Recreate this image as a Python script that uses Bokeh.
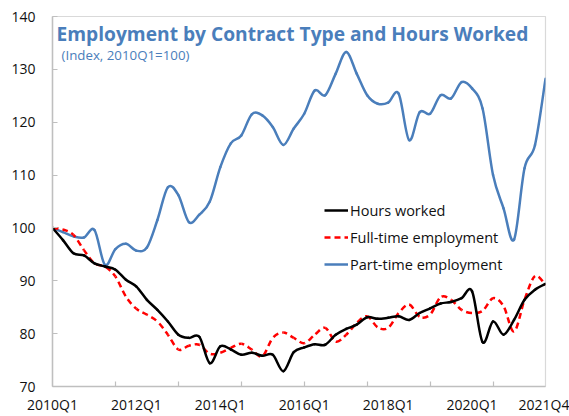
import numpy as np
from bokeh.plotting import figure
from bokeh.models import (Range1d, FixedTicker, Label, Legend, LegendItem,
                          ColumnDataSource, CustomJSTickFormatter)
from bokeh.embed import file_html
from bokeh.resources import INLINE

# ---------------- data ----------------
quarters = [f"{y}Q{q}" for y in range(2010, 2022) for q in range(1, 5)]
tick_labels = ["2010Q1", "2012Q1", "2014Q1", "2016Q1", "2018Q1", "2020Q1", "2021Q4"]
y_ticks = [70, 80, 90, 100, 110, 120, 130, 140]

hours = [100, 97.7, 95.2, 94.8, 93.3, 92.7, 92.1, 90.2, 88.9, 86.4, 84.5, 82.3,
         79.8, 79.2, 79.4, 74.4, 77.6, 77.0, 76.0, 76.4, 75.8, 76.0, 72.9, 76.5,
         77.4, 78.0, 77.9, 79.8, 80.9, 81.7, 83.1, 82.8, 83.0, 83.3, 82.6, 83.9,
         84.8, 85.7, 86.0, 86.7, 88.0, 78.4, 82.3, 79.8, 82.6, 86.4, 88.3, 89.4]
full_time = [100, 99.7, 98.7, 95.8, 93.3, 92.7, 90.8, 87.0, 84.7, 83.6, 82.3, 79.8,
             77.0, 77.7, 77.9, 76.2, 76.4, 77.3, 78.1, 77.0, 75.7, 79.2, 80.2, 79.2,
             78.2, 79.8, 81.1, 78.5, 79.8, 82.0, 83.3, 81.2, 81.1, 83.9, 85.5, 83.2,
             83.6, 86.9, 86.4, 84.5, 83.9, 84.3, 86.7, 85.2, 80.4, 86.4, 90.9, 89.2]
part_time = [100, 99.2, 98.4, 98.2, 99.6, 93.0, 96.0, 97.0, 95.7, 96.3, 101.5, 107.7,
             106.2, 101.1, 102.5, 105.0, 111.5, 116.0, 117.5, 121.5, 121.3, 119.1, 115.7, 118.8,
             121.6, 126.0, 125.1, 129.2, 133.3, 129.2, 125.1, 123.5, 123.7, 125.4, 116.6, 121.9,
             121.6, 125.1, 124.5, 127.6, 126.4, 122.6, 110.0, 103.7, 97.8, 111.3, 115.7, 128.2]

# ---------------- layout ----------------
W, H = 569, 416
BL, BR, BT, BB = 52, 24, 16, 29
FW, FH = W - BL - BR, H - BT - BB
Y0, Y1 = 70, 140
N = len(quarters)

BLUE = "#4a7ebb"
RED = "#ff0000"
FONT = "Open Sans"

p = figure(width=W, height=H, output_backend="svg", toolbar_location=None,
           x_range=Range1d(0, N - 1), y_range=Range1d(Y0, Y1),
           min_border_left=BL, min_border_right=BR, min_border_top=BT,
           min_border_bottom=BB)
p.grid.visible = False
p.outline_line_color = "#d9d9d9"
p.outline_line_width = 1.2
p.background_fill_color = "white"
p.border_fill_color = "white"


def bezier_source(vals):
    x = np.arange(len(vals), dtype=float)
    y = np.asarray(vals, dtype=float)
    n = len(vals)
    sx, sy = FW / (n - 1), FH / (Y1 - Y0)
    d = dict(x0=[], y0=[], x1=[], y1=[], cx0=[], cy0=[], cx1=[], cy1=[], off=[])
    cum = 0.0
    for i in range(n - 1):
        a = max(i - 1, 0)
        b = min(i + 2, n - 1)
        c0x = x[i] + (x[i + 1] - x[a]) / 6
        c0y = y[i] + (y[i + 1] - y[a]) / 6
        c1x = x[i + 1] - (x[b] - x[i]) / 6
        c1y = y[i + 1] - (y[b] - y[i]) / 6
        d["x0"].append(x[i]); d["y0"].append(y[i])
        d["x1"].append(x[i + 1]); d["y1"].append(y[i + 1])
        d["cx0"].append(c0x); d["cy0"].append(c0y)
        d["cx1"].append(c1x); d["cy1"].append(c1y)
        d["off"].append(int(round(cum)) % 10)
        t = np.linspace(0, 1, 25)
        bx = ((1 - t) ** 3 * x[i] + 3 * (1 - t) ** 2 * t * c0x
              + 3 * (1 - t) * t ** 2 * c1x + t ** 3 * x[i + 1]) * sx
        by = ((1 - t) ** 3 * y[i] + 3 * (1 - t) ** 2 * t * c0y
              + 3 * (1 - t) * t ** 2 * c1y + t ** 3 * y[i + 1]) * sy
        cum += float(np.sum(np.hypot(np.diff(bx), np.diff(by))))
    return ColumnDataSource(d)


LW = 2.5
bz = dict(x0="x0", y0="y0", x1="x1", y1="y1", cx0="cx0", cy0="cy0", cx1="cx1", cy1="cy1")
p.bezier(source=bezier_source(part_time), line_color=BLUE, line_width=LW, line_cap="round", **bz)
p.bezier(source=bezier_source(full_time), line_color=RED, line_width=LW,
         line_dash="6 4", line_dash_offset="off", **bz)
p.bezier(source=bezier_source(hours), line_color="black", line_width=LW, line_cap="round", **bz)

# legend proxies (one NaN point each: nothing drawn in the plot, only the legend sample)
r_h = p.line(x=[np.nan], y=[np.nan], line_color="black", line_width=LW)
r_f = p.line(x=[np.nan], y=[np.nan], line_color=RED, line_width=LW, line_dash="6 4")
r_p = p.line(x=[np.nan], y=[np.nan], line_color=BLUE, line_width=LW)
legend = Legend(items=[LegendItem(label="Hours worked", renderers=[r_h]),
                       LegendItem(label="Full-time employment", renderers=[r_f]),
                       LegendItem(label="Part-time employment", renderers=[r_p])],
                location=(272, 112), glyph_width=24, glyph_height=20, label_height=20,
                spacing=7, padding=0, margin=0, label_standoff=2,
                border_line_color=None, background_fill_alpha=0,
                label_text_font_size="14.5px", label_text_font=FONT,
                label_text_color="#111111")
p.add_layout(legend)

# axes
xa = p.xaxis[0]
xa.ticker = FixedTicker(ticks=[quarters.index(t) for t in tick_labels],
                        minor_ticks=list(range(6, N - 1, 6)))
xa.formatter = CustomJSTickFormatter(args=dict(labels=quarters),
                                     code="return labels[Math.round(tick)];")
xa.major_tick_line_color = None
xa.major_tick_in = 0
xa.major_tick_out = 0
xa.minor_tick_in = 5
xa.minor_tick_out = 0
xa.minor_tick_line_color = "#bfbfbf"
xa.minor_tick_line_width = 1.2
xa.axis_line_color = "#bfbfbf"
xa.axis_line_width = 1.5
xa.major_label_standoff = 8
xa.major_label_text_font_size = "14px"
xa.major_label_text_font = FONT
xa.major_label_text_color = "#111111"

ya = p.yaxis[0]
ya.ticker = FixedTicker(ticks=y_ticks)
ya.major_tick_in = 5
ya.major_tick_out = 0
ya.major_tick_line_color = "#bfbfbf"
ya.major_tick_line_width = 1.2
ya.minor_tick_line_color = None
ya.axis_line_color = "#bfbfbf"
ya.axis_line_width = 1.5
ya.major_label_standoff = 17
ya.major_label_text_font_size = "14px"
ya.major_label_text_font = FONT
ya.major_label_text_color = "#111111"

# title inside the plot area
p.add_layout(Label(x=0.38, y=139.25, text="Employment by Contract Type and Hours Worked",
                   text_font=FONT, text_font_style="bold", text_font_size="19.2px",
                   text_color=BLUE, text_baseline="top", text_align="left"))
p.add_layout(Label(x=0.86, y=134.5, text="(Index, 2010Q1=100)",
                   text_font=FONT, text_font_size="13.3px",
                   text_color=BLUE, text_baseline="top", text_align="left"))

open("out.html", "w").write(file_html(p, INLINE))
